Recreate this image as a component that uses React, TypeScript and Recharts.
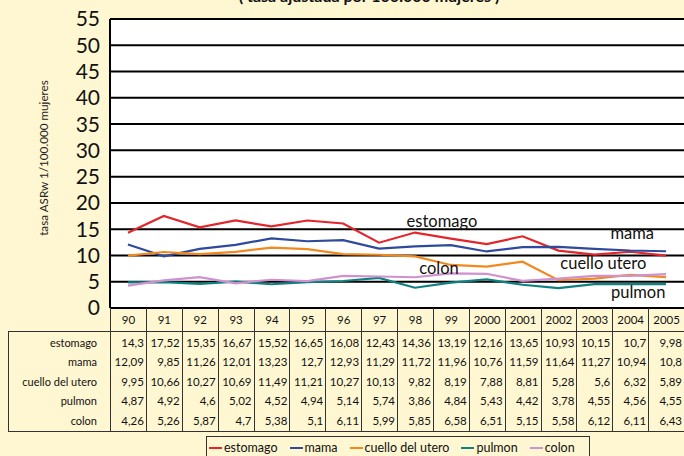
import { LineChart, Line, XAxis, YAxis, CartesianGrid, ReferenceDot } from 'recharts';

const years = ['90', '91', '92', '93', '94', '95', '96', '97', '98', '99', '2000', '2001', '2002', '2003', '2004', '2005'];

const estomago = [14.3, 17.52, 15.35, 16.67, 15.52, 16.65, 16.08, 12.43, 14.36, 13.19, 12.16, 13.65, 10.93, 10.15, 10.7, 9.98];
const mama = [12.09, 9.85, 11.26, 12.01, 13.23, 12.7, 12.93, 11.29, 11.72, 11.96, 10.76, 11.59, 11.64, 11.27, 10.94, 10.8];
const cuelloUtero = [9.95, 10.66, 10.27, 10.69, 11.49, 11.21, 10.27, 10.13, 9.82, 8.19, 7.88, 8.81, 5.28, 5.6, 6.32, 5.89];
const pulmon = [4.87, 4.92, 4.6, 5.02, 4.52, 4.94, 5.14, 5.74, 3.86, 4.84, 5.43, 4.42, 3.78, 4.55, 4.56, 4.55];
const colon = [4.26, 5.26, 5.87, 4.7, 5.38, 5.1, 6.11, 5.99, 5.85, 6.58, 6.51, 5.15, 5.58, 6.12, 6.11, 6.43];

const yTicks = [0, 5, 10, 15, 20, 25, 30, 35, 40, 45, 50, 55];

const series = [
  { key: 'estomago', name: 'estomago', color: '#e3262b', values: estomago },
  { key: 'mama', name: 'mama', color: '#2f4a9c', values: mama },
  { key: 'cuello', name: 'cuello del utero', color: '#f08a1f', values: cuelloUtero },
  { key: 'pulmon', name: 'pulmon', color: '#118080', values: pulmon },
  { key: 'colon', name: 'colon', color: '#cf92cf', values: colon },
];

// labels written next to the lines inside the plot
const lineLabels = [
  { text: 'estomago', year: '98', value: 16.6, dx: 27 },
  { text: 'mama', year: '2004', value: 14.2, dx: 2 },
  { text: 'cuello utero', year: '2003', value: 8.6, dx: 9 },
  { text: 'colon', year: '98', value: 7.6, dx: 24 },
  { text: 'pulmon', year: '2004', value: 3.0, dx: 8 },
];

const data = years.map((year, i) => {
  const row: Record<string, string | number> = { year };
  series.forEach((s) => {
    row[s.key] = s.values[i];
  });
  return row;
});

const BG = '#fff7d1';
const FONT = 'Lato, "DejaVu Sans", sans-serif';
const PLOT_LEFT = 110;
const PLOT_RIGHT = 684;
const PLOT_TOP = 19;
const PLOT_BOTTOM = 308;
const COL_W = (PLOT_RIGHT - PLOT_LEFT) / years.length;
const HEADER_BOTTOM = 331;
const BODY_BOTTOM = 432;
const ROW_H = 19.4;

const fmt = (v: number) => String(v).replace('.', ',');

const App = () => {
  return (
    <div
      style={{
        position: 'fixed',
        left: 0,
        top: 0,
        width: 684,
        height: 456,
        overflow: 'hidden',
        background: BG,
        fontFamily: FONT,
        color: '#111',
      }}
    >
      <div
        style={{
          position: 'absolute',
          left: 369,
          top: -12,
          transform: 'translateX(-50%)',
          fontWeight: 700,
          fontSize: 16,
          lineHeight: '16px',
          whiteSpace: 'nowrap',
        }}
      >
        ( tasa ajustada por 100.000 mujeres )
      </div>

      <div
        style={{
          position: 'absolute',
          left: 43,
          top: 158,
          transform: 'translate(-50%, -50%) rotate(-90deg)',
          fontSize: 11.7,
          whiteSpace: 'nowrap',
          color: '#222',
        }}
      >
        tasa ASRw 1/100.000 mujeres
      </div>

      <div style={{ position: 'absolute', left: 0, top: 0 }}>
        <LineChart
          width={PLOT_RIGHT}
          height={456}
          data={data}
          margin={{ top: PLOT_TOP, right: 0, left: 50, bottom: 456 - PLOT_BOTTOM }}
        >
          <CartesianGrid vertical={false} stroke="#000" strokeWidth={2} fill="#fff" fillOpacity={1} />
          <XAxis dataKey="year" hide padding={{ left: COL_W / 2, right: COL_W / 2 }} />
          <YAxis
            width={60}
            domain={[0, 55]}
            ticks={yTicks}
            interval={0}
            tickLine={false}
            tickSize={0}
            tickMargin={10}
            axisLine={{ stroke: '#000', strokeWidth: 2 }}
            tick={{ fontSize: 21, fill: '#111', fontFamily: FONT }}
          />
          {series.map((s) => (
            <Line
              key={s.key}
              type="linear"
              dataKey={s.key}
              name={s.name}
              stroke={s.color}
              strokeWidth={2.2}
              dot={false}
              isAnimationActive={false}
            />
          ))}
          {lineLabels.map((l) => (
            <ReferenceDot
              key={l.text}
              x={l.year}
              y={l.value}
              r={0}
              fill="none"
              stroke="none"
              label={{ value: l.text, position: 'center', dx: l.dx, fontSize: 16.5, fill: '#111', fontFamily: FONT }}
            />
          ))}
        </LineChart>
      </div>

      {/* data table under the plot */}
      {years.map((y, i) => (
        <div
          key={y}
          style={{
            position: 'absolute',
            left: PLOT_LEFT + i * COL_W,
            top: PLOT_BOTTOM,
            width: COL_W,
            height: HEADER_BOTTOM - PLOT_BOTTOM,
            borderLeft: '1px solid #333',
            boxSizing: 'border-box',
            fontSize: 11.5,
            lineHeight: `${HEADER_BOTTOM - PLOT_BOTTOM}px`,
            textAlign: 'center',
          }}
        >
          {y}
        </div>
      ))}
      <div
        style={{
          position: 'absolute',
          left: 8,
          top: HEADER_BOTTOM,
          width: PLOT_RIGHT + 4 - 8,
          height: BODY_BOTTOM - HEADER_BOTTOM,
          border: '1.5px solid #333',
          boxSizing: 'border-box',
        }}
      />
      {years.map((y, i) => (
        <div
          key={'v' + y}
          style={{
            position: 'absolute',
            left: PLOT_LEFT + i * COL_W,
            top: HEADER_BOTTOM,
            width: 0,
            height: BODY_BOTTOM - HEADER_BOTTOM,
            borderLeft: '1px solid #333',
          }}
        />
      ))}
      {series.map((s, r) => (
        <div key={'row' + s.key}>
          <div
            style={{
              position: 'absolute',
              left: 8,
              top: HEADER_BOTTOM + 2 + r * ROW_H,
              width: PLOT_LEFT - 8 - 13,
              height: ROW_H,
              lineHeight: `${ROW_H}px`,
              fontSize: 11,
              textAlign: 'right',
              whiteSpace: 'nowrap',
            }}
          >
            {s.name}
          </div>
          {s.values.map((v, i) => (
            <div
              key={i}
              style={{
                position: 'absolute',
                left: PLOT_LEFT + i * COL_W,
                top: HEADER_BOTTOM + 2 + r * ROW_H,
                width: COL_W - 2,
                height: ROW_H,
                lineHeight: `${ROW_H}px`,
                fontSize: 11.5,
                textAlign: 'right',
                whiteSpace: 'nowrap',
              }}
            >
              {fmt(v)}
            </div>
          ))}
        </div>
      ))}

      {/* legend */}
      <div
        style={{
          position: 'absolute',
          left: 206,
          top: 436,
          width: 384,
          height: 30,
          border: '1px solid #333',
          boxSizing: 'border-box',
          display: 'flex',
          alignItems: 'flex-start',
          paddingLeft: 2,
          paddingTop: 3,
          gap: 12,
          fontSize: 12.5,
          lineHeight: '16px',
        }}
      >
        {series.map((s) => (
          <div key={'lg' + s.key} style={{ display: 'flex', alignItems: 'center', whiteSpace: 'nowrap' }}>
            <span style={{ display: 'inline-block', width: 13, height: 2, background: s.color, marginRight: 2 }} />
            {s.name}
          </div>
        ))}
      </div>
    </div>
  );
};

export default App;
